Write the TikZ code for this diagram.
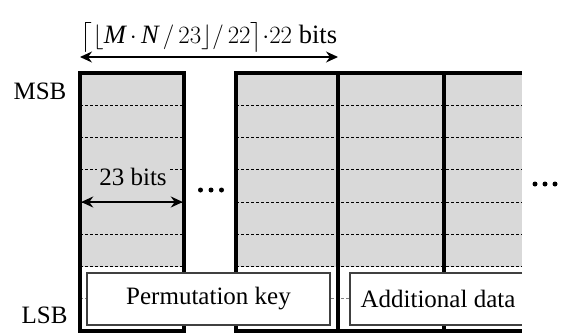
\documentclass[tikz,border=0pt]{standalone}
\usepackage{amsmath}
\usepackage{fontspec}
\setmainfont{Liberation Serif}
\usetikzlibrary{arrows.meta}

\begin{document}
\begin{tikzpicture}[x=1pt, y=-1pt,
	>={Stealth[length=12pt,width=11pt]}, font=\fontsize{25}{30}\selectfont,
	bordo/.style={line width=3.2pt},
	riga/.style={dash pattern=on 3pt off 2pt, line width=0.8pt},
	campo/.style={draw=black!75, line width=1.1pt, fill=white}]
	\useasboundingbox (0,0) rectangle (567,335);
	\def\yT{73}    %% bordo superiore
	\def\yB{331}   %% bordo inferiore
	\pgfmathsetmacro{\dy}{(\yB-\yT)/8}
	\def\xA{80}  \def\xB{184}   %% prima parola
	\def\xC{236} \def\xD{338} \def\xE{444} \def\xF{522}
	
	%% sfondo grigio delle prime sei righe
	\fill[gray!30] (\xA,\yT) rectangle (\xB,{\yT+6*\dy});
	\fill[gray!30] (\xC,\yT) rectangle (\xF,{\yT+6*\dy});
	
	%% righe tratteggiate
	\foreach \i in {1,...,6} {
		\draw[riga] (\xA,{\yT+\i*\dy}) -- (\xB,{\yT+\i*\dy});
		\draw[riga] (\xC,{\yT+\i*\dy}) -- (\xF,{\yT+\i*\dy});
	}
	\draw[riga, gray] (\xA,{\yT+7*\dy}) -- (\xB,{\yT+7*\dy});
	\draw[riga, gray] (\xC,{\yT+7*\dy}) -- (\xF,{\yT+7*\dy});
	
	%% parole da 23 bit
	\draw[bordo] (\xA,\yT) rectangle (\xB,\yB);
	\draw[bordo] (\xF,\yT) -- (\xC,\yT) -- (\xC,\yB) -- (\xF,\yB);
	\draw[bordo] (\xD,\yT) -- (\xD,\yB);
	\draw[bordo] (\xE,\yT) -- (\xE,\yB);
	
	%% campi in basso
	\node[campo, minimum width=243pt, minimum height=52pt] (chiave) at (208.5,299) {Permutation key};
	\fill[white] (350,273) rectangle (\xF,325);
	\draw[draw=black!75, line width=1.1pt] (\xF,273) -- (350,273) -- (350,325) -- (\xF,325);
	\node[inner sep=0pt] (dati) at (438,299) {Additional data};
	
	%% quote
	\node[fill=gray!30, inner sep=2pt] (ventitre) at (133,177) {23 bits};
	\coordinate (qa) at (\xA,{\yT+4*\dy});
	\coordinate (qb) at (\xB,{\yT+4*\dy});
	\draw[<->, line width=1.8pt, shorten <=1.2pt, shorten >=1.2pt] (qa) -- (qb);
	
	\node[font=\fontsize{26.5}{30}\selectfont, inner sep=0pt] (totale) at (209,37) {$\bigl\lceil \lfloor \textit{M}\,{\cdot}\, \textit{N}\,/\,23\rfloor/\,22\bigr\rceil{\cdot}22$ bits};
	\coordinate (ta) at (\xA,57);
	\coordinate (tb) at (\xD,57);
	\draw[<->, line width=1.2pt] (ta) -- (tb);
	
	\node (msb) at (40,91.5) {MSB};
	\node (lsb) at (44.5,315) {LSB};
	
	%% puntini
	\foreach \x in {200.5,211,221.5} \fill (\x,190) circle (2.5pt);
	\foreach \x in {535,545,555} \fill (\x,184) circle (2.5pt);
\end{tikzpicture}
\end{document}
